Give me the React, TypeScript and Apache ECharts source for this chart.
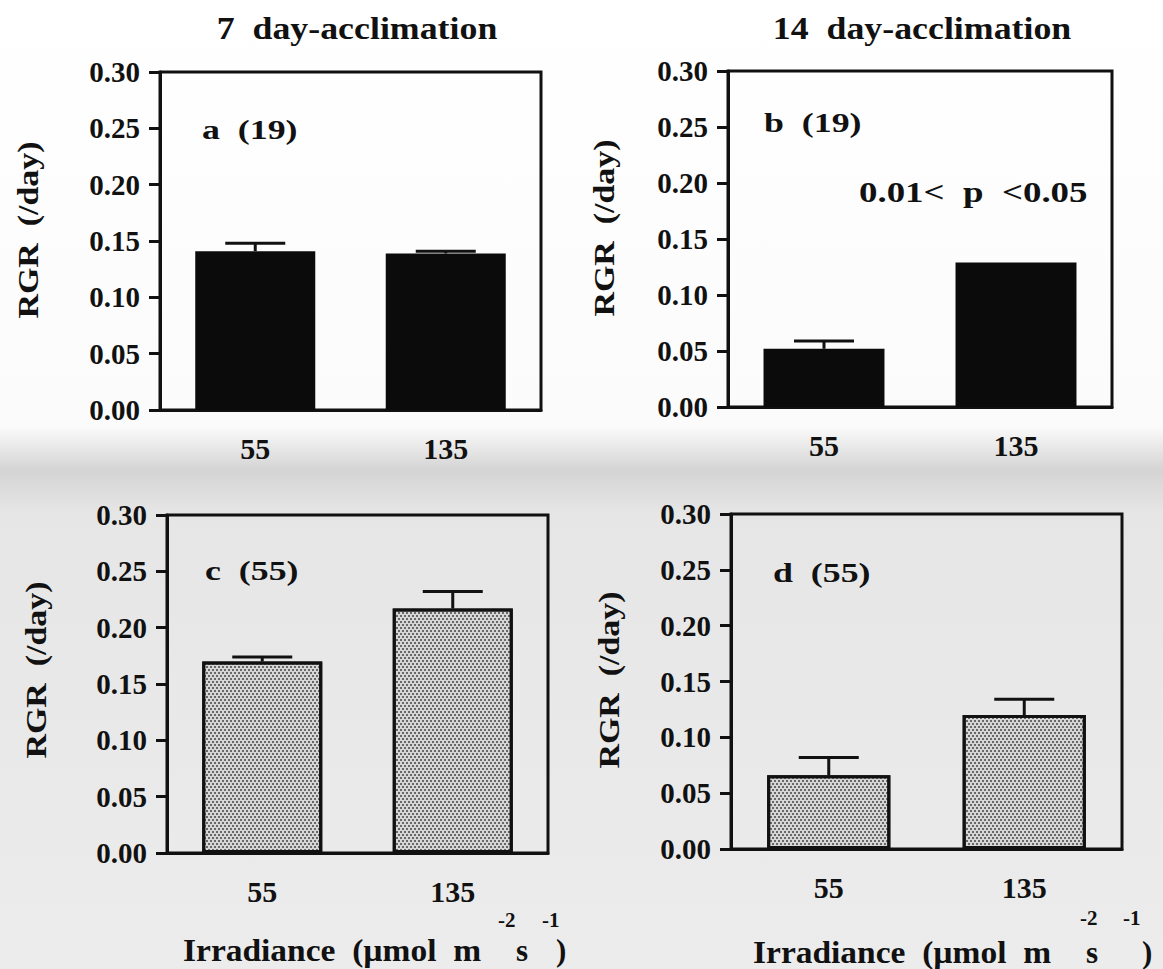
import React, { useEffect, useRef } from "react";
import * as echarts from "echarts";

// ---- data ----
const categories = ["55", "135"];
const rgrA = [0.141, 0.139];
const errA = [0.007, 0.002];
const rgrB = [0.052, 0.129];
const errB = [0.007, 0];
const rgrC = [0.17, 0.217];
const errC = [0.004, 0.015];
const rgrD = [0.066, 0.12];
const errD = [0.016, 0.014];
const yMin = 0;
const yMax = 0.3;
const yStep = 0.05;
const titles = ["7  day-acclimation", "14  day-acclimation"];
const panelLabels = ["a  (19)", "b  (19)", "c  (55)", "d  (55)"];
const pText = "0.01<  p  <0.05";
const yName = "RGR  (/day)";

const FONT = "Liberation Serif, Times New Roman, serif";
const INK = "#111111";

export default function App() {
  const ref = useRef<HTMLDivElement>(null);
  useEffect(() => {
    document.body.style.margin = "0";
    const chart = echarts.init(ref.current!, null, { renderer: "svg" });

    const grids = [
      { left: 160, top: 72, width: 381, height: 338 },
      { left: 728, top: 71, width: 384, height: 336 },
      { left: 167, top: 515, width: 381, height: 338 },
      { left: 731, top: 514, width: 391, height: 335 },
    ];
    const vals = [rgrA, rgrB, rgrC, rgrD];
    const errs = [errA, errB, errC, errD];

    const stipple = {
      color: "#d6d6d6",
      borderColor: INK,
      borderWidth: 3,
      decal: {
        symbol: "rect",
        symbolSize: 1,
        color: "rgba(30,30,30,0.6)",
        dashArrayX: [
          [2, 2],
          [0, 2, 2, 0],
        ],
        dashArrayY: [2, 1],
      },
    };

    const xAxis = grids.map((_, i) => ({
      type: "category",
      gridIndex: i,
      data: categories,
      axisLine: { lineStyle: { color: INK, width: 3 } },
      axisTick: { alignWithLabel: true, length: 11, lineStyle: { color: INK, width: 3 } },
      axisLabel: {
        color: INK,
        fontFamily: FONT,
        fontWeight: "bold",
        fontSize: 30,
        margin: 23,
      },
      splitLine: { show: false },
    }));
    const yAxis = grids.map((_, i) => ({
      type: "value",
      gridIndex: i,
      min: yMin,
      max: yMax,
      interval: yStep,
      axisLine: { show: true, lineStyle: { color: INK, width: 3 } },
      axisTick: { show: true, length: 11, lineStyle: { color: INK, width: 3 } },
      axisLabel: {
        color: INK,
        fontFamily: FONT,
        fontWeight: "bold",
        fontSize: 29,
        margin: 20,
        formatter: (v: number) => v.toFixed(2),
      },
      splitLine: { show: false },
    }));

    const barSeries = grids.map((_, i) => ({
      type: "bar",
      xAxisIndex: i,
      yAxisIndex: i,
      barWidth: "63%",
      data: vals[i],
      itemStyle: i < 2 ? { color: "#0b0b0b" } : stipple,
      z: 2,
    }));
    const errSeries = grids.map((_, i) => ({
      type: "custom",
      xAxisIndex: i,
      yAxisIndex: i,
      z: 3,
      data: categories.map((_c, k) => [k, vals[i][k], errs[i][k]]),
      encode: { x: 0, y: 1 },
      renderItem: (_p: any, api: any) => {
        const x = api.value(0);
        const v = api.value(1);
        const e = api.value(2);
        if (!e) return { type: "group", children: [] };
        const base = api.coord([x, v]);
        const top = api.coord([x, v + e]);
        const hw = 30;
        return {
          type: "group",
          children: [
            {
              type: "line",
              shape: { x1: base[0], y1: base[1], x2: top[0], y2: top[1] },
              style: { stroke: INK, lineWidth: 3 },
            },
            {
              type: "line",
              shape: { x1: top[0] - hw, y1: top[1], x2: top[0] + hw, y2: top[1] },
              style: { stroke: INK, lineWidth: 3 },
            },
          ],
        };
      },
    }));

    const txt = (
      text: string,
      x: number,
      y: number,
      size: number,
      align: string,
      opts: any = {}
    ) => ({
      type: "text",
      x,
      y,
      z: 10,
      ...opts,
      style: {
        text,
        fontFamily: FONT,
        fontWeight: "bold",
        fontSize: size,
        fill: INK,
        textAlign: align,
        textVerticalAlign: "middle",
      },
    });

    const graphic: any[] = [
      {
        type: "rect",
        shape: { x: 0, y: 0, width: 1163, height: 969 },
        z: -10,
        silent: true,
        style: {
          fill: new echarts.graphic.LinearGradient(0, 0, 0, 1, [
            { offset: 0, color: "#ffffff" },
            { offset: 0.44, color: "#fbfbfb" },
            { offset: 0.485, color: "#d4d4d4" },
            { offset: 0.53, color: "#e6e6e6" },
            { offset: 1, color: "#ececec" },
          ]),
        },
      },
      txt(titles[0], 357, 28, 32, "center", { scaleX: 1.12 }),
      txt(titles[1], 922, 28, 32, "center", { scaleX: 1.12 }),
      txt(panelLabels[0], 202, 129, 28, "left", { scaleX: 1.28 }),
      txt(panelLabels[1], 764, 122, 28, "left", { scaleX: 1.28 }),
      txt(pText, 859, 192, 30, "left", { scaleX: 1.23 }),
      txt(panelLabels[2], 205, 570, 28, "left", { scaleX: 1.28 }),
      txt(panelLabels[3], 773, 572, 28, "left", { scaleX: 1.28 }),
      txt(yName, 28, 230, 29, "center", { rotation: Math.PI / 2, scaleX: 1.17 }),
      txt(yName, 604, 228, 29, "center", { rotation: Math.PI / 2, scaleX: 1.17 }),
      txt(yName, 36, 670, 29, "center", { rotation: Math.PI / 2, scaleX: 1.17 }),
      txt(yName, 609, 680, 29, "center", { rotation: Math.PI / 2, scaleX: 1.17 }),
      // x axis titles (bottom row)
      txt("Irradiance  (µmol  m", 183, 950, 31, "left", { scaleX: 1.08 }),
      txt("-2", 498, 920, 21, "left"),
      txt("s", 516, 950, 31, "left"),
      txt("-1", 542, 920, 21, "left"),
      txt(")", 556, 950, 31, "left"),
      txt("Irradiance  (µmol  m", 753, 952, 31, "left", { scaleX: 1.08 }),
      txt("-2", 1080, 918, 21, "left"),
      txt("s", 1086, 952, 31, "left"),
      txt("-1", 1123, 918, 21, "left"),
      txt(")", 1142, 952, 31, "left"),
    ];

    chart.setOption({
      animation: false,
      backgroundColor: "transparent",
      grid: grids.map((g) => ({
        ...g,
        show: true,
        borderColor: INK,
        borderWidth: 3,
        backgroundColor: "transparent",
        containLabel: false,
      })),
      xAxis,
      yAxis,
      series: [...barSeries, ...errSeries],
      graphic,
    });
    return () => chart.dispose();
  }, []);
  return <div ref={ref} style={{ width: 1163, height: 969 }} />;
}
